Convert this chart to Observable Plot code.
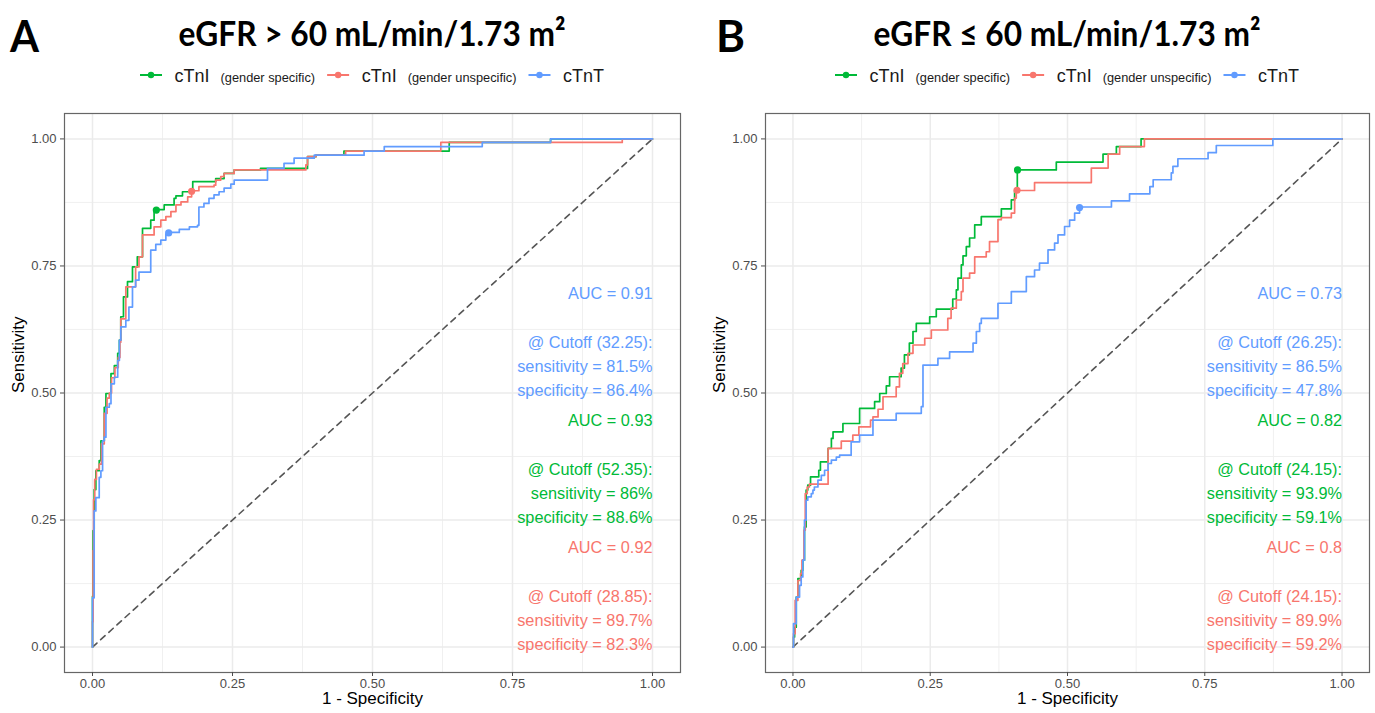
<!DOCTYPE html>
<html>
<head>
<meta charset="utf-8">
<script src="https://cdn.jsdelivr.net/npm/d3@7"></script>
<script src="https://cdn.jsdelivr.net/npm/@observablehq/plot@0.6"></script>
<style>
  html, body { margin: 0; padding: 0; background: #fff; }
  body { width: 1375px; height: 713px; position: relative; overflow: hidden; font-family: "Liberation Sans", Arial, sans-serif; }
  .abs { position: absolute; }
</style>
</head>
<body>
<script>
// ---------------- DATA ----------------
const panelLetters = ["A", "B"];
const panelTitles = ["eGFR > 60 mL/min/1.73 m²", "eGFR ≤ 60 mL/min/1.73 m²"];
const seriesMain = ["cTnI", "cTnI", "cTnT"];
const seriesSub = ["(gender specific)", "(gender unspecific)", ""];
const seriesColors = ["#00BA38", "#F8766D", "#619CFF"];
const tickValues = [0, 0.25, 0.5, 0.75, 1];
const minorTickValues = [0.125, 0.375, 0.625, 0.875];
const axisLabelX = "1 - Specificity";
const axisLabelY = "Sensitivity";
const diagonalPoints = [[0, 0], [1, 1]];

// Panel A (eGFR > 60): ROC steps [1 - specificity, sensitivity]
const rocA_gs = [[0,0],[0,0.10],[0.001,0.229],[0.003,0.31],[0.006,0.347],[0.012,0.367],[0.015,0.406],[0.021,0.472],[0.024,0.499],[0.033,0.538],[0.039,0.554],[0.045,0.578],[0.048,0.604],[0.0505,0.650],[0.0553,0.689],[0.0625,0.719],[0.0714,0.748],[0.080,0.768],[0.0893,0.824],[0.104,0.840],[0.110,0.857],[0.113,0.861],[0.128,0.870],[0.1457,0.883],[0.149,0.888],[0.1607,0.896],[0.179,0.916],[0.220,0.922],[0.235,0.932],[0.253,0.939],[0.30,0.942],[0.384,0.965],[0.399,0.968],[0.449,0.976],[0.637,0.993],[0.818,1.0],[1,1]];
const rocA_gu = [[0,0],[0,0.05],[0.001,0.19],[0.002,0.29],[0.004,0.33],[0.007,0.35],[0.012,0.36],[0.016,0.40],[0.021,0.46],[0.026,0.49],[0.030,0.50],[0.034,0.53],[0.040,0.55],[0.046,0.57],[0.049,0.60],[0.0505,0.646],[0.0595,0.709],[0.077,0.748],[0.083,0.768],[0.0893,0.811],[0.110,0.827],[0.122,0.840],[0.131,0.847],[0.140,0.857],[0.149,0.870],[0.158,0.876],[0.170,0.886],[0.177,0.898],[0.190,0.906],[0.217,0.909],[0.220,0.919],[0.229,0.926],[0.235,0.932],[0.253,0.939],[0.381,0.949],[0.384,0.965],[0.399,0.968],[0.452,0.976],[0.622,0.993],[0.946,1.0],[1,1]];
const rocA_t = [[0,0],[0,0.097],[0.003,0.268],[0.006,0.294],[0.012,0.334],[0.015,0.347],[0.018,0.406],[0.021,0.413],[0.024,0.472],[0.030,0.479],[0.033,0.518],[0.039,0.531],[0.045,0.564],[0.048,0.604],[0.0506,0.630],[0.0595,0.643],[0.065,0.669],[0.0714,0.709],[0.077,0.722],[0.083,0.738],[0.104,0.781],[0.113,0.7925],[0.122,0.801],[0.131,0.8126],[0.136,0.816],[0.155,0.822],[0.173,0.827],[0.1875,0.830],[0.190,0.866],[0.199,0.873],[0.208,0.883],[0.217,0.890],[0.226,0.896],[0.235,0.903],[0.247,0.911],[0.253,0.919],[0.3125,0.942],[0.342,0.952],[0.360,0.962],[0.396,0.968],[0.485,0.976],[0.521,0.985],[0.696,0.993],[0.818,1.0],[1,1]];
const aucA = [0.93, 0.92, 0.91];
const cutoffA = [52.35, 28.85, 32.25];
const sensA = [86, 89.7, 81.5];
const specA = [88.6, 82.3, 86.4];

// Panel B (eGFR <= 60)
const rocB_gs = [[0,0],[0.001,0.02],[0.003,0.039],[0.006,0.0985],[0.009,0.1348],[0.015,0.151],[0.018,0.171],[0.021,0.2365],[0.024,0.309],[0.027,0.3186],[0.032,0.335],[0.047,0.348],[0.050,0.3645],[0.064,0.391],[0.070,0.4106],[0.073,0.4236],[0.091,0.440],[0.1214,0.4697],[0.1487,0.483],[0.158,0.499],[0.170,0.514],[0.176,0.532],[0.197,0.549],[0.203,0.575],[0.212,0.598],[0.2186,0.621],[0.2246,0.637],[0.249,0.650],[0.261,0.665],[0.291,0.685],[0.2975,0.703],[0.3005,0.726],[0.3066,0.752],[0.3097,0.770],[0.3157,0.788],[0.3217,0.805],[0.331,0.831],[0.343,0.847],[0.3795,0.8625],[0.3977,0.880],[0.4037,0.8966],[0.4086,0.939],[0.4796,0.9545],[0.5647,0.970],[0.589,0.985],[0.634,1.0],[1,1]];
const rocB_gu = [[0,0],[0.001,0.0264],[0.004,0.092],[0.009,0.131],[0.0139,0.1446],[0.0164,0.171],[0.020,0.230],[0.0224,0.302],[0.026,0.315],[0.030,0.3206],[0.064,0.391],[0.088,0.4053],[0.109,0.417],[0.12,0.4335],[0.1413,0.4467],[0.1457,0.453],[0.155,0.468],[0.164,0.4926],[0.188,0.512],[0.194,0.5387],[0.200,0.558],[0.2095,0.578],[0.2186,0.5945],[0.240,0.6077],[0.252,0.624],[0.282,0.647],[0.288,0.667],[0.2975,0.683],[0.3066,0.6995],[0.3097,0.726],[0.3217,0.736],[0.331,0.768],[0.352,0.778],[0.358,0.798],[0.3734,0.841],[0.3795,0.845],[0.3977,0.854],[0.4037,0.8835],[0.4067,0.8985],[0.440,0.914],[0.5434,0.9427],[0.574,0.970],[0.595,0.985],[0.640,1.0],[1,1]];
const rocB_t = [[0,0],[0.001,0.046],[0.006,0.0985],[0.012,0.1215],[0.015,0.138],[0.018,0.171],[0.021,0.25],[0.024,0.289],[0.027,0.2956],[0.0334,0.302],[0.0364,0.309],[0.039,0.315],[0.0455,0.3285],[0.0516,0.338],[0.0576,0.348],[0.064,0.3613],[0.070,0.368],[0.079,0.374],[0.085,0.3777],[0.106,0.404],[0.1214,0.417],[0.1457,0.4467],[0.188,0.46],[0.2337,0.473],[0.2368,0.555],[0.264,0.568],[0.2853,0.581],[0.328,0.598],[0.334,0.621],[0.340,0.637],[0.343,0.647],[0.3734,0.6766],[0.3977,0.6995],[0.425,0.729],[0.440,0.742],[0.449,0.7555],[0.4645,0.7816],[0.4765,0.795],[0.4827,0.811],[0.4947,0.8276],[0.5038,0.84],[0.513,0.854],[0.522,0.866],[0.580,0.878],[0.613,0.892],[0.650,0.906],[0.656,0.9196],[0.689,0.933],[0.692,0.946],[0.701,0.961],[0.756,0.973],[0.771,0.987],[0.874,1.0],[1,1]];
const aucB = [0.82, 0.8, 0.73];
const cutoffB = [24.15, 24.15, 26.25];
const sensB = [93.9, 89.9, 86.5];
const specB = [59.1, 59.2, 47.8];

// annotation slot per series (0 = top block)
const annotationSlot = [1, 2, 0];

const panels = [
  { rocs: [rocA_gs, rocA_gu, rocA_t], auc: aucA, cutoff: cutoffA, sens: sensA, spec: specA,
    left: 0, width: 687, marginLeft: 64, marginRight: 7 },
  { rocs: [rocB_gs, rocB_gu, rocB_t], auc: aucB, cutoff: cutoffB, sens: sensB, spec: specB,
    left: 700, width: 675, marginLeft: 65, marginRight: 6 }
];

// ---------------- LAYOUT ----------------
const plotTop = 100, plotHeight = 613, marginTop = 13, marginBottom = 41;
const fontFam = "'Liberation Sans', Arial, Helvetica, sans-serif";
const titleFam = "Lato, 'Open Sans', sans-serif";

const header = d3.select("body").append("svg")
  .attr("class", "abs").style("left", "0px").style("top", "0px")
  .attr("width", 1375).attr("height", plotTop)
  .attr("font-family", fontFam);

panels.forEach((p, pi) => {
  const frameL = p.left + p.marginLeft;
  const frameR = p.left + p.width - p.marginRight;
  const cx = (frameL + frameR) / 2;

  // panel letter
  header.append("text")
    .attr("x", p.left + 10 + (pi ? 6 : 0)).attr("y", 52)
    .attr("font-family", titleFam).attr("font-weight", 700)
    .attr("font-size", 44).attr("textLength", 29).attr("lengthAdjust", "spacingAndGlyphs")
    .text(panelLetters[pi]);

  // title
  header.append("text")
    .attr("x", cx).attr("y", 46).attr("text-anchor", "middle")
    .attr("font-family", titleFam).attr("font-weight", 700)
    .attr("font-size", 35).attr("textLength", 387).attr("lengthAdjust", "spacingAndGlyphs")
    .text(panelTitles[pi]);

  // legend
  const lg = header.append("g");
  let x = 0;
  seriesMain.forEach((m, i) => {
    lg.append("line").attr("x1", x).attr("x2", x + 22).attr("y1", 0).attr("y2", 0)
      .attr("stroke", seriesColors[i]).attr("stroke-width", 2);
    lg.append("circle").attr("cx", x + 11).attr("cy", 0).attr("r", 3.2).attr("fill", seriesColors[i]);
    x += 22 + 12.5;
    const t = lg.append("text").attr("x", x).attr("y", 6.5).attr("font-size", 18).attr("fill", "#1a1a1a").text(m);
    x += t.node().getComputedTextLength() + 11;
    if (seriesSub[i]) {
      const s = lg.append("text").attr("x", x).attr("y", 6.5).attr("font-size", 12.8).attr("fill", "#1a1a1a").text(seriesSub[i]);
      x += s.node().getComputedTextLength() + 12;
    }
  });
  x -= 11;
  lg.attr("transform", `translate(${cx - x / 2},75)`);

  // annotations
  const notes = [];
  p.rocs.forEach((r, i) => {
    const slot = annotationSlot[i];
    notes.push({ x: 1, y: 0.70 - 0.25 * slot, color: seriesColors[i], text: `AUC = ${p.auc[i]}` });
    notes.push({ x: 1, y: 0.556 - 0.25 * slot, color: seriesColors[i],
      text: `@ Cutoff (${p.cutoff[i]}):\nsensitivity = ${p.sens[i]}%\nspecificity = ${p.spec[i]}%` });
  });
  const cutPoints = p.rocs.map((r, i) => ({ x: 1 - p.spec[i] / 100, y: p.sens[i] / 100, color: seriesColors[i] }));

  const chart = Plot.plot({
    width: p.width, height: plotHeight,
    marginLeft: p.marginLeft, marginRight: p.marginRight, marginTop, marginBottom,
    style: { fontFamily: fontFam, background: "white", overflow: "visible" },
    x: { domain: [-0.05, 1.05], axis: null },
    y: { domain: [-0.05, 1.05], axis: null },
    color: { type: "identity" },
    marks: [
      Plot.ruleX(minorTickValues, { stroke: "#EEEEEE", strokeWidth: 0.9 }),
      Plot.ruleY(minorTickValues, { stroke: "#EEEEEE", strokeWidth: 0.9 }),
      Plot.ruleX(tickValues, { stroke: "#EBEBEB", strokeWidth: 1.5 }),
      Plot.ruleY(tickValues, { stroke: "#EBEBEB", strokeWidth: 1.5 }),
      Plot.line(diagonalPoints, { stroke: "#555555", strokeWidth: 1.6, strokeDasharray: "6,5" }),
      ...p.rocs.map((r, i) => Plot.line(r, { x: d => d[0], y: d => d[1], curve: "step-after",
        stroke: seriesColors[i], strokeWidth: 1.7 })),
      Plot.dot(cutPoints, { x: "x", y: "y", fill: "color", r: 3.6 }),
      Plot.text(notes, { x: "x", y: "y", text: "text", fill: "color", textAnchor: "end",
        fontSize: 16.3, lineHeight: 1.47, lineAnchor: "middle" }),
      Plot.frame({ stroke: "#666666", strokeWidth: 1.2 }),
      Plot.axisX({ ticks: tickValues, tickFormat: d3.format(".2f"), fontSize: 13, color: "#4D4D4D",
        tickSize: 4, tickPadding: 2, label: null }),
      Plot.axisY({ ticks: tickValues, tickFormat: d3.format(".2f"), fontSize: 13, color: "#4D4D4D",
        tickSize: 4, tickPadding: 4, label: null }),
      Plot.text([axisLabelX], { text: d => d, frameAnchor: "bottom", dy: 31, fontSize: 17, fill: "#000" }),
      Plot.text([axisLabelY], { text: d => d, frameAnchor: "left", dx: -46, rotate: -90, fontSize: 17, fill: "#000" })
    ]
  });
  chart.classList.add("abs");
  chart.style.left = p.left + "px";
  chart.style.top = plotTop + "px";
  document.body.appendChild(chart);
});
</script>
</body>
</html>
